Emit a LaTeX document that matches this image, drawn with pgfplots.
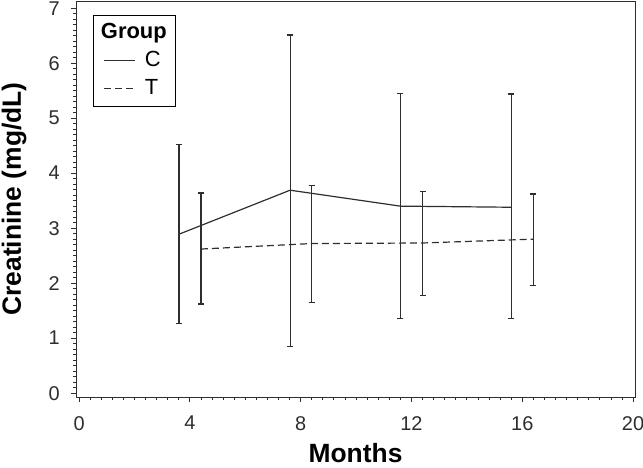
\documentclass[border=0pt]{standalone}
\usepackage{pgfplots}
\pgfplotsset{compat=1.18}
\usepackage{fontspec}
\setmainfont{Liberation Sans}
\definecolor{ln}{HTML}{2E2E2E}
\begin{document}
\begin{tikzpicture}[x=1bp,y=1bp]
\begin{axis}[
  name=ax,
  scale only axis,
  width=559bp, height=396bp,
  xmin=-0.11, xmax=20.07,
  ymin=-0.07, ymax=7.13,
  xtick={0,4,...,20}, ytick={0,1,...,7},
  minor x tick num=9, minor y tick num=9,
  tick align=outside,
  xtick pos=bottom, ytick pos=left,
  major tick length=5bp, minor tick length=3bp,
  tick style={ln, line width=0.8pt},
  axis line style={ln, line width=0.9pt},
  ticklabel style={font=\fontsize{20}{22}\selectfont, text=ln, inner sep=0pt},
  xticklabel style={yshift=-14bp},
  yticklabel style={xshift=-11bp},
  /pgf/number format/assume math mode=true,
  xlabel={\textbf{Months}}, ylabel={\textbf{Creatinine (mg/dL)}},
  label style={font=\fontsize{26.5}{30}\selectfont, text=black, inner sep=0pt},
  xlabel style={at={(axis description cs:0.5,0)}, anchor=base, yshift=-66bp},
  ylabel style={at={(axis description cs:0,0.5)}, anchor=base, yshift=55bp},
  legend style={at={(rel axis cs:0,1)}, anchor=north west, xshift=17bp, yshift=-14bp,
     draw=black, line width=0.8pt, font=\fontsize{22}{25}\selectfont, row sep=3bp,
     inner xsep=7bp, inner ysep=5bp, cells={anchor=west},
     nodes={text height=16bp, text depth=5bp, inner sep=2bp}},
  legend image code/.code={\draw[#1, line width=1pt] (4bp,0bp) -- (35bp,0bp); \path (42bp,0bp);},
  clip=false,
]
\addlegendimage{empty legend}
\addlegendentry{\hspace{-44bp}\textbf{Group}\hspace{6bp}}
\addplot[ln, line width=1.2pt, error bars/.cd, y dir=both, y explicit,
  error bar style={ln, line width=1.2pt}, error mark options={rotate=90, mark size=3bp, line width=1.2pt, ln}]
  table[x=x, y=y, y error plus=ep, y error minus=em] {
x y ep em
3.61 2.89 1.63 1.62
7.62 3.69 2.82 2.84
11.6 3.40 2.05 2.05
15.6 3.38 2.06 2.03
};
\addlegendentry{C}
\addplot[ln, line width=1.2pt, dash pattern=on 7bp off 4bp, error bars/.cd, y dir=both, y explicit,
  error bar style={ln, line width=1.2pt, solid}, error mark options={rotate=90, mark size=3bp, line width=1.2pt, ln, solid}]
  table[x=x, y=y, y error plus=ep, y error minus=em] {
x y ep em
4.40 2.62 1.02 1.00
8.40 2.72 1.06 1.07
12.4 2.73 0.93 0.95
16.4 2.80 0.82 0.84
};
\addlegendentry{T}
\end{axis}
\pgfresetboundingbox
\path ([shift={(-76bp,-71bp)}]ax.south west) rectangle ([shift={(8bp,1bp)}]ax.north east);
\end{tikzpicture}
\end{document}
